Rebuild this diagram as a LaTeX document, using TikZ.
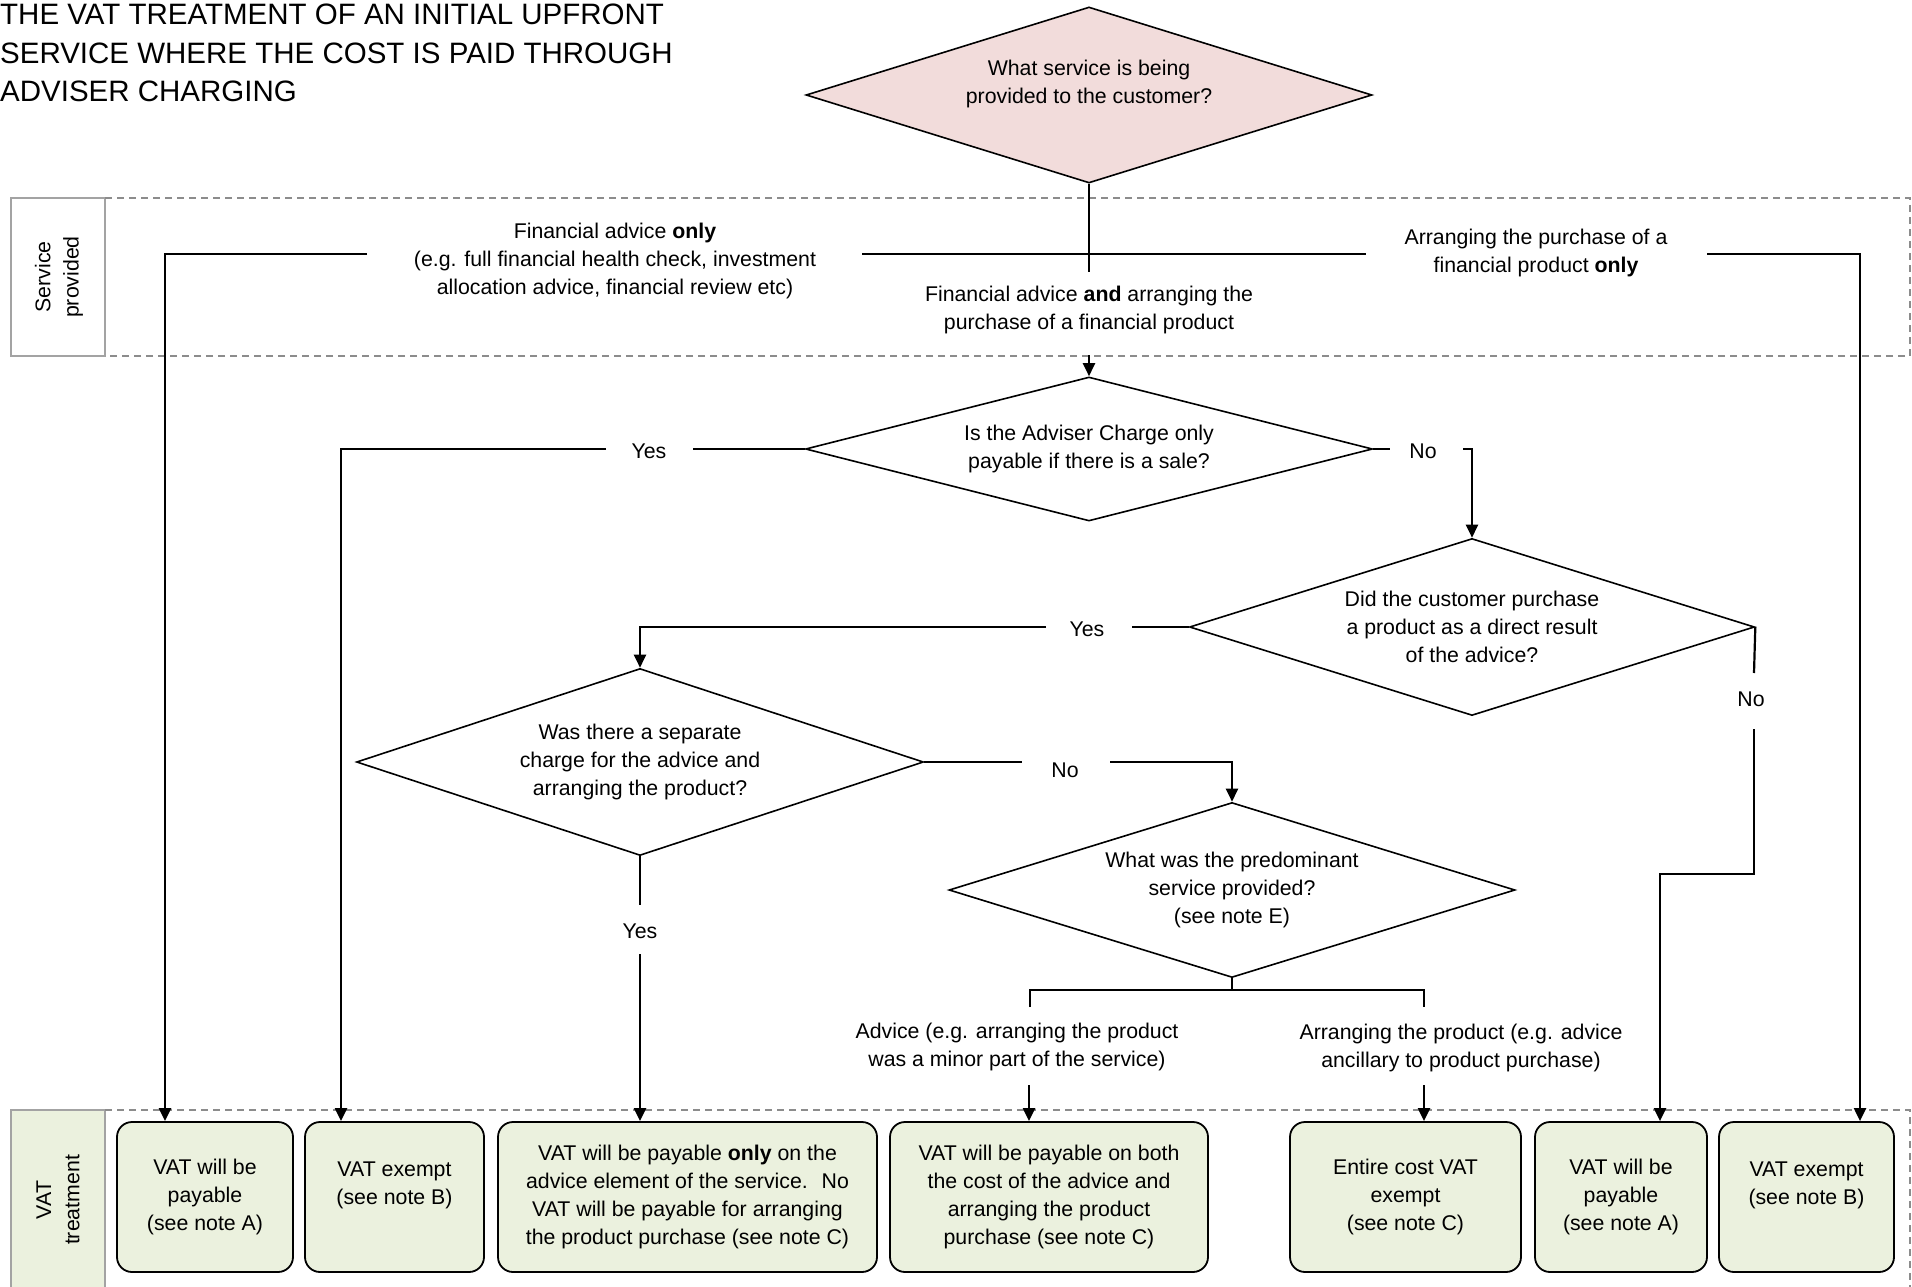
\documentclass[tikz,border=0pt]{standalone}
\usepackage{fontspec}
\setmainfont{Liberation Sans}
\usetikzlibrary{shapes.geometric,arrows.meta}
\definecolor{pinkq}{HTML}{F2DCDB}
\definecolor{vatgreen}{HTML}{EBF1DE}
\definecolor{lanegray}{HTML}{8C8C8C}
\begin{document}
\begin{tikzpicture}[x=1pt,y=-1pt,
  every node/.style={font=\fontsize{21.3}{28.2}\selectfont},
  dia/.style={diamond, draw, line width=1.6pt, inner sep=0pt, align=center, aspect=3},
  res/.style={rectangle, rounded corners=15pt, draw, line width=1.8pt, fill=vatgreen, align=center, inner sep=0pt, minimum height=150pt},
  lbl/.style={align=center, inner sep=0pt},
  conn/.style={line width=2.2pt},
  arr/.style={conn, -{Triangle[length=13pt,width=12pt]}},
  lanebox/.style={draw=lanegray!80, line width=2.5pt},
  lanedash/.style={draw=lanegray, line width=1.6pt, dash pattern=on 7pt off 5pt}
]
\useasboundingbox (0,0) rectangle (1912,1287);

% title
\node[lbl, anchor=north west, align=left, font=\fontsize{29.5}{38.5}\selectfont] (title) at (0,4)
  {THE VAT TREATMENT OF AN INITIAL UPFRONT\\SERVICE WHERE THE COST IS PAID THROUGH\\ADVISER CHARGING};

% swimlanes
\path[lanebox] (11,198) rectangle (105,356);
\draw[lanedash] (105,198) -- (1910,198) -- (1910,356) -- (105,356);
\node[lbl, rotate=90] (lane1) at (59,277) {Service\\provided};
\path[lanebox, fill=vatgreen] (11,1110) rectangle (105,1300);
\draw[lanedash] (105,1110) -- (1910,1110) -- (1910,1300);
\node[lbl, rotate=90] (lane2) at (58,1200) {VAT\\treatment};

% decision nodes
\node[dia, fill=pinkq, minimum width=566pt, minimum height=176pt] (d1) at (1089,95) {};
\node[lbl] (d1t) at (1089,84) {What service is being\\provided to the customer?};
\node[dia, minimum width=567pt, minimum height=144pt] (d2) at (1089,449) {Is the Adviser Charge only\\payable if there is a sale?};
\node[dia, minimum width=565pt, minimum height=177pt] (d3) at (1472,627) {Did the customer purchase\\a product as a direct result\\of the advice?};
\node[dia, minimum width=567pt, minimum height=187pt] (d4) at (640,762) {Was there a separate\\charge for the advice and\\arranging the product?};
\node[dia, minimum width=566pt, minimum height=175pt] (d5) at (1232,890) {What was the predominant\\service provided?\\(see note E)};

% result boxes
\node[res, minimum width=176pt] (b1) at (205,1197) {VAT will be\\payable\\(see note A)};
\node[res, minimum width=179pt] (b2) at (394.5,1197) {VAT exempt\\(see note B)\\\mbox{}};
\node[res, minimum width=379pt] (b3) at (687.5,1197) {VAT will be payable \textbf{only} on the\\advice element of the service.~ No\\VAT will be payable for arranging\\the product purchase (see note C)};
\node[res, minimum width=318pt] (b4) at (1049,1197) {VAT will be payable on both\\the cost of the advice and\\arranging the product\\purchase (see note C)};
\node[res, minimum width=231pt] (b5) at (1405.5,1197) {Entire cost VAT\\exempt\\(see note C)};
\node[res, minimum width=172pt] (b6) at (1621,1197) {VAT will be\\payable\\(see note A)};
\node[res, minimum width=175pt] (b7) at (1806.5,1197) {VAT exempt\\(see note B)\\\mbox{}};

% branch labels
\node[lbl] (tA) at (615,261) {Financial advice \textbf{only}\\(e.g. full financial health check, investment\\allocation advice, financial review etc)};
\node[lbl] (tB) at (1536,253) {Arranging the purchase of a\\financial product \textbf{only}};
\node[lbl] (tC) at (1089,310) {Financial advice \textbf{and} arranging the\\purchase of a financial product};
\node[lbl] (yes1) at (649,451) {Yes};
\node[lbl] (no1) at (1423,451) {No};
\node[lbl] (yes2) at (1087,629) {Yes};
\node[lbl] (no2) at (1751,699) {No};
\node[lbl] (no3) at (1065,770) {No};
\node[lbl] (yes3) at (640,931) {Yes};
\node[lbl] (tAdv) at (1017,1047) {Advice (e.g. arranging the product\\was a minor part of the service)};
\node[lbl] (tArr) at (1461,1048) {Arranging the product (e.g. advice\\ancillary to product purchase)};

% helper coordinates
\coordinate (stem) at (1089,272);
\coordinate (jA) at (1089,254);
\coordinate (gA1) at (862,254);
\coordinate (gA2) at (367,254);
\coordinate (pA) at (165,254);
\coordinate (gB1) at (1366,254);
\coordinate (gB2) at (1707,254);
\coordinate (pB) at (1860,254);
\coordinate (sC) at (1089,355);
\coordinate (y1a) at (693,449);
\coordinate (y1b) at (606,449);
\coordinate (p1) at (341,449);
\coordinate (n1a) at (1390,449);
\coordinate (n1b) at (1463,449);
\coordinate (p2) at (1472,449);
\coordinate (y2a) at (1132,627);
\coordinate (y2b) at (1046,627);
\coordinate (p3) at (640,627);
\coordinate (n2a) at (1754,673);
\coordinate (n2b) at (1754,729);
\coordinate (p4) at (1754,874);
\coordinate (p5) at (1660,874);
\coordinate (n3a) at (1022,762);
\coordinate (n3b) at (1110,762);
\coordinate (p6) at (1232,762);
\coordinate (y3a) at (640,905);
\coordinate (y3b) at (640,954);
\coordinate (sp) at (1232,990);
\coordinate (spL) at (1030,990);
\coordinate (spR) at (1424,990);
\coordinate (spL2) at (1030,1007);
\coordinate (spR2) at (1424,1007);
\coordinate (aL) at (1029,1085);
\coordinate (aR) at (1424,1085);

% connectors
\draw[conn] (d1.south) -- (stem);
\draw[conn] (gA1) -- (jA) -- (gB1);
\draw[arr] (gA2) -- (pA) -- (pA |- b1.north);
\draw[arr] (gB2) -- (pB) -- (pB |- b7.north);
\draw[arr] (sC) -- (d2.north);
\draw[conn] (d2.west) -- (y1a);
\draw[arr] (y1b) -- (p1) -- (p1 |- b2.north);
\draw[conn] (d2.east) -- (n1a);
\draw[arr] (n1b) -- (p2) -- (d3.north);
\draw[conn] (d3.west) -- (y2a);
\draw[arr] (y2b) -- (p3) -- (d4.north);
\draw[conn] (d3.east) -- (n2a);
\draw[arr] (n2b) -- (p4) -- (p5) -- (p5 |- b6.north);
\draw[conn] (d4.east) -- (n3a);
\draw[arr] (n3b) -- (p6) -- (d5.north);
\draw[conn] (d4.south) -- (y3a);
\draw[arr] (y3b) -- (y3b |- b3.north);
\draw[conn] (d5.south) -- (sp);
\draw[conn] (spL2) -- (spL) -- (spR) -- (spR2);
\draw[arr] (aL) -- (aL |- b4.north);
\draw[arr] (aR) -- (aR |- b5.north);
\end{tikzpicture}
\end{document}
